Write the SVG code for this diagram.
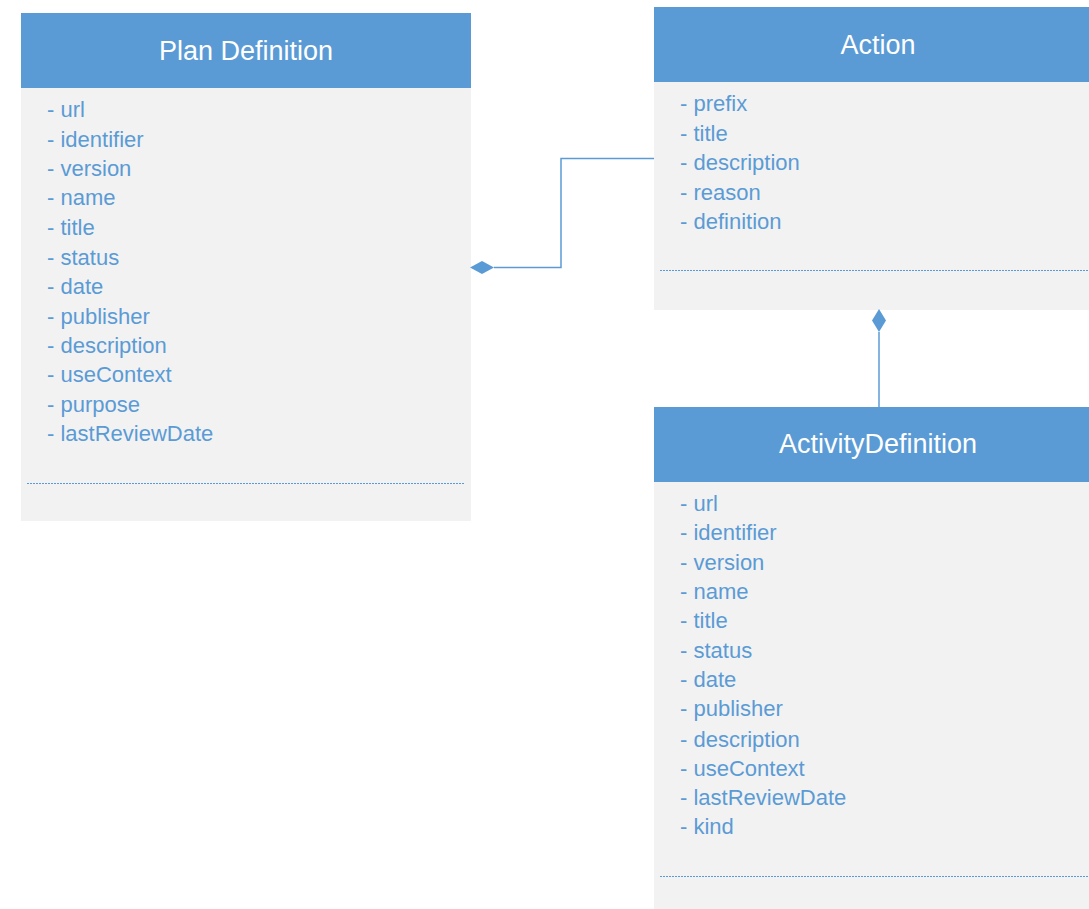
<svg xmlns="http://www.w3.org/2000/svg" width="1089" height="909" viewBox="0 0 1089 909">
<defs>
<style>
.body{fill:#F2F2F2}
.head{fill:#5B9BD5}
.title{font-family:"Liberation Sans",Arial,sans-serif;font-size:27px;fill:#FFFFFF;text-anchor:middle}
.attr{font-family:"Liberation Sans",Arial,sans-serif;font-size:22px;fill:#5B9BD5}
.sep{stroke:#5B9BD5;stroke-width:1;stroke-dasharray:2 1;fill:none}
.conn{stroke:#5B9BD5;stroke-width:1.5;fill:none}
.dia{fill:#5B9BD5}
</style>
</defs>
<rect width="1089" height="909" fill="#FFFFFF"/>
<g id="plan-definition">
<rect class="body" x="21" y="13" width="450" height="508"/>
<rect class="head" x="21" y="13" width="450" height="75"/>
<text class="title" x="246" y="60">Plan Definition</text>
<text class="attr" x="47" y="117">- url</text>
<text class="attr" x="47" y="147">- identifier</text>
<text class="attr" x="47" y="176">- version</text>
<text class="attr" x="47" y="205">- name</text>
<text class="attr" x="47" y="235">- title</text>
<text class="attr" x="47" y="265">- status</text>
<text class="attr" x="47" y="294">- date</text>
<text class="attr" x="47" y="324">- publisher</text>
<text class="attr" x="47" y="353">- description</text>
<text class="attr" x="47" y="382">- useContext</text>
<text class="attr" x="47" y="412">- purpose</text>
<text class="attr" x="47" y="441">- lastReviewDate</text>
<line class="sep" x1="27" y1="483.5" x2="465" y2="483.5"/>
</g>
<g id="action">
<rect class="body" x="654" y="7" width="435" height="303"/>
<rect class="head" x="654" y="7" width="435" height="75"/>
<text class="title" x="878" y="54">Action</text>
<text class="attr" x="680" y="111">- prefix</text>
<text class="attr" x="680" y="141">- title</text>
<text class="attr" x="680" y="170">- description</text>
<text class="attr" x="680" y="200">- reason</text>
<text class="attr" x="680" y="229">- definition</text>
<line class="sep" x1="660" y1="270.5" x2="1089" y2="270.5"/>
</g>
<g id="activity-definition">
<rect class="body" x="654" y="407" width="435" height="502"/>
<rect class="head" x="654" y="407" width="435" height="75"/>
<text class="title" x="878" y="453">ActivityDefinition</text>
<text class="attr" x="680" y="511">- url</text>
<text class="attr" x="680" y="540">- identifier</text>
<text class="attr" x="680" y="570">- version</text>
<text class="attr" x="680" y="599">- name</text>
<text class="attr" x="680" y="628">- title</text>
<text class="attr" x="680" y="658">- status</text>
<text class="attr" x="680" y="687">- date</text>
<text class="attr" x="680" y="716">- publisher</text>
<text class="attr" x="680" y="747">- description</text>
<text class="attr" x="680" y="776">- useContext</text>
<text class="attr" x="680" y="805">- lastReviewDate</text>
<text class="attr" x="680" y="834">- kind</text>
<line class="sep" x1="660" y1="876.5" x2="1089" y2="876.5"/>
</g>
<g id="connectors">
<polyline class="conn" points="654,158.5 561,158.5 561,267.5 494,267.5"/>
<polygon class="dia" points="470,267.5 482,261 494,267.5 482,274"/>
<line class="conn" x1="879" y1="407" x2="879" y2="332"/>
<polygon class="dia" points="879,309 886,320.5 879,332 872,320.5"/>
</g>
</svg>
